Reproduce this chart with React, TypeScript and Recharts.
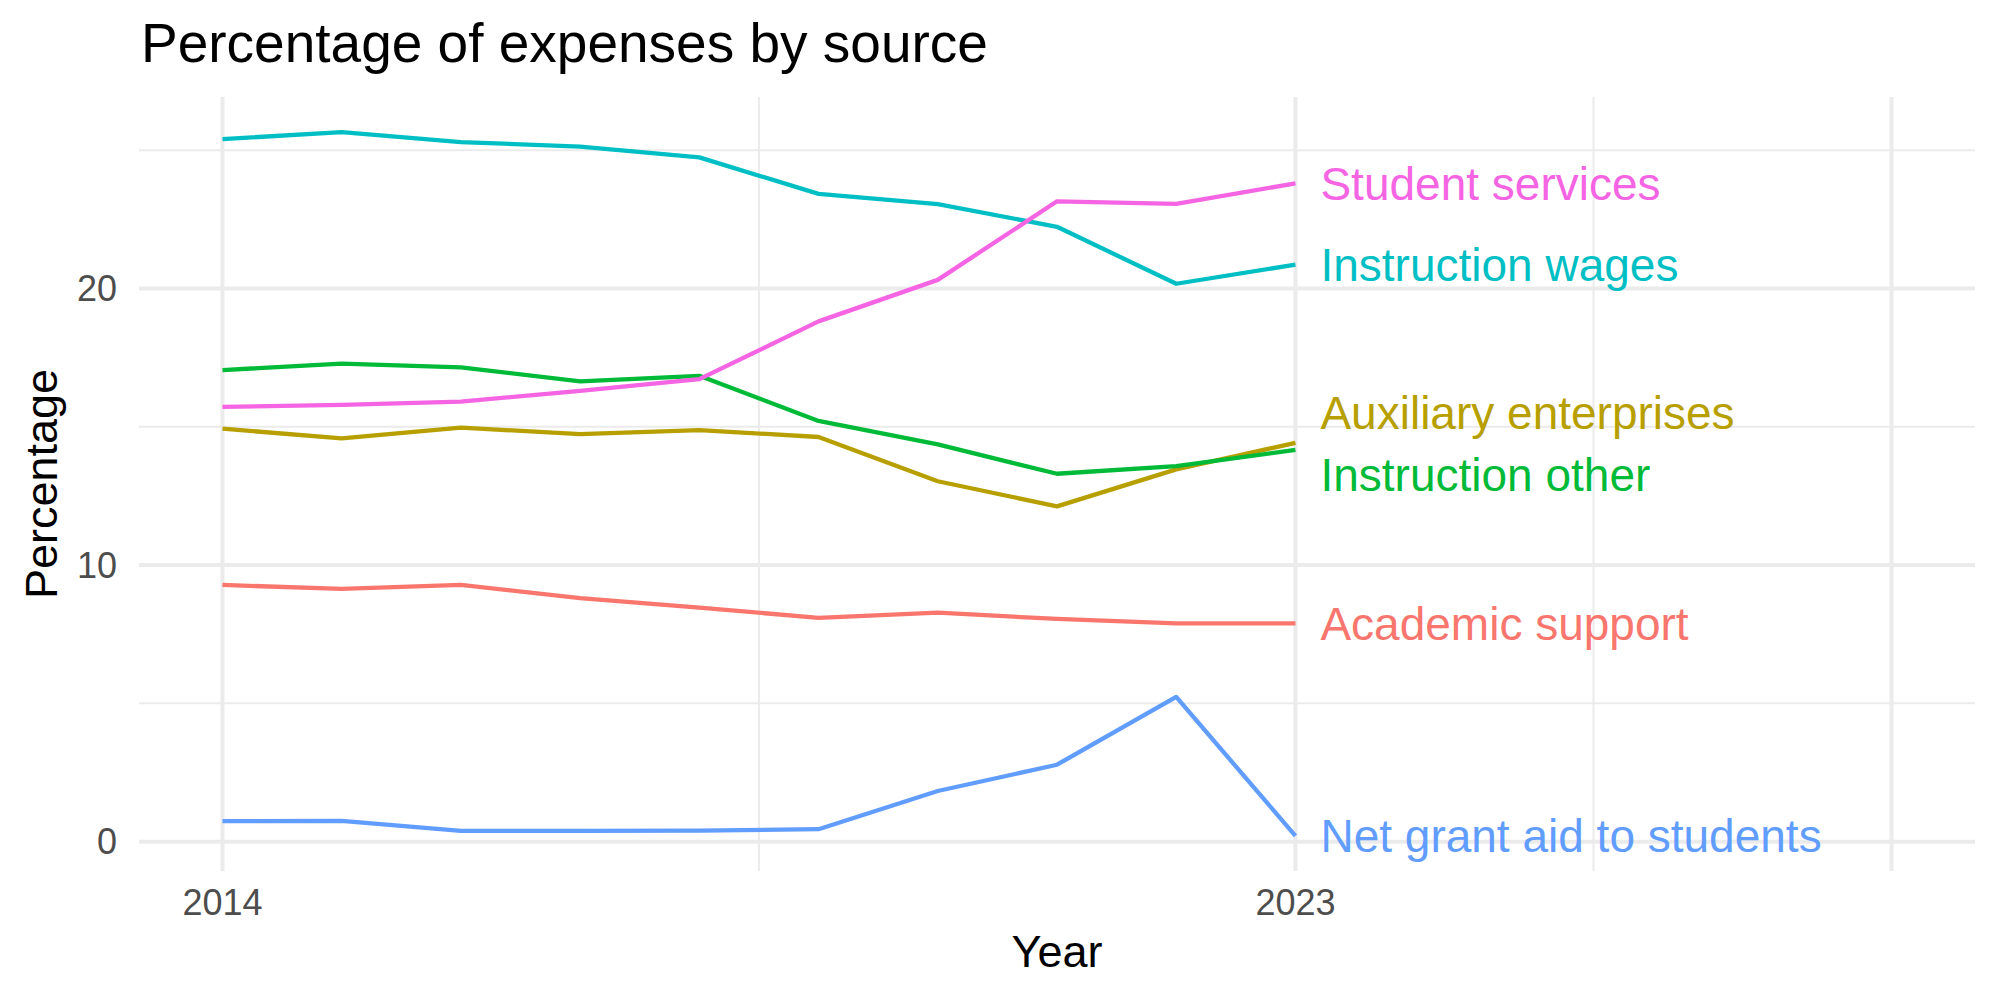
import React from "react";
import { LineChart, Line, XAxis, YAxis, CartesianGrid, ReferenceDot } from "recharts";

// Share of total expenses per category, by fiscal year
const years = [2014, 2015, 2016, 2017, 2018, 2019, 2020, 2021, 2022, 2023];

const academicSupport = [9.28, 9.14, 9.28, 8.8, 8.46, 8.09, 8.28, 8.05, 7.89, 7.89];
const auxiliaryEnterprises = [14.93, 14.58, 14.97, 14.73, 14.88, 14.63, 13.03, 12.12, 13.46, 14.42];
const instructionOther = [17.05, 17.28, 17.15, 16.64, 16.84, 15.21, 14.36, 13.3, 13.58, 14.16];
const instructionWages = [25.4, 25.65, 25.29, 25.13, 24.74, 23.42, 23.05, 22.23, 20.17, 20.86];
const netGrantAid = [0.74, 0.75, 0.39, 0.39, 0.4, 0.45, 1.83, 2.78, 5.23, 0.21];
const studentServices = [15.72, 15.79, 15.91, 16.3, 16.72, 18.81, 20.31, 23.15, 23.06, 23.8];

const seriesNames = [
  "Academic support",
  "Auxiliary enterprises",
  "Instruction other",
  "Instruction wages",
  "Net grant aid to students",
  "Student services",
];
const seriesValues = [
  academicSupport,
  auxiliaryEnterprises,
  instructionOther,
  instructionWages,
  netGrantAid,
  studentServices,
];
// repelled label heights at the last year
const labelValues = [7.89, 15.51, 13.27, 20.86, 0.21, 23.8];

const yTicks = [0, 10, 20];
const yMinor = [5, 15, 25];
const xTicks = [2014, 2023];
const xMajor = [2014, 2023, 2028];
const xMinor = [2018.5, 2025.5];

const COLORS = ["#F8766D", "#B79F00", "#00BA38", "#00BFC4", "#619CFF", "#F564E3"];
const FONT = "'Liberation Sans', Arial, Helvetica, sans-serif";
const GRID = "#EBEBEB";

const keys = seriesNames.map((_, i) => `s${i}`);

const rows = years.map((year, i) => {
  const row: Record<string, number> = { year };
  seriesValues.forEach((vals, s) => {
    row[keys[s]] = vals[i];
  });
  return row;
});

// ggplot-style 5% expansion of the data range
const allValues = seriesValues.flat();
const yLo = Math.min(...allValues);
const yHi = Math.max(...allValues);
const yPad = (yHi - yLo) * 0.05;
const xLo = 2014;
const xHi = 2028;
const xPad = (xHi - xLo) * 0.05;

function XTitle(props: any) {
  const vb = props.viewBox ?? { x: 139, y: 871, width: 1836, height: 60 };
  return (
    <text x={vb.x + vb.width / 2} y={vb.y + 96} textAnchor="middle" fill="#000" fontSize={45} fontFamily={FONT}>
      Year
    </text>
  );
}

function YTitle(props: any) {
  const vb = props.viewBox ?? { x: 39, y: 97, width: 100, height: 774 };
  const cx = 57;
  const cy = vb.y + vb.height / 2;
  return (
    <text
      x={cx}
      y={cy}
      textAnchor="middle"
      transform={`rotate(-90, ${cx}, ${cy})`}
      fill="#000"
      fontSize={45}
      fontFamily={FONT}
    >
      Percentage
    </text>
  );
}

export default function App() {
  return (
    <div
      style={{
        position: "absolute",
        left: 0,
        top: 0,
        width: 2000,
        height: 1000,
        background: "#fff",
        fontFamily: FONT,
      }}
    >
      <div
        style={{
          position: "absolute",
          left: 141,
          top: 16,
          fontSize: 55,
          lineHeight: "55px",
          color: "#000",
          whiteSpace: "nowrap",
        }}
      >
        Percentage of expenses by source
      </div>
      <LineChart width={2000} height={1000} data={rows} margin={{ top: 97, right: 25, bottom: 69, left: 39 }}>
        <CartesianGrid
          horizontalValues={yMinor}
          verticalValues={xMinor}
          stroke={GRID}
          strokeWidth={2}
        />
        <CartesianGrid
          horizontalValues={yTicks}
          verticalValues={xMajor}
          stroke={GRID}
          strokeWidth={4}
        />
        <XAxis
          dataKey="year"
          type="number"
          domain={[xLo - xPad, xHi + xPad]}
          ticks={xTicks}
          axisLine={false}
          tickLine={false}
          tickSize={0}
          tickMargin={18}
          height={60}
          interval={0}
          tick={{ fill: "#4D4D4D", fontSize: 36, fontFamily: FONT }}
          label={{ content: (p: any) => <XTitle viewBox={p.viewBox} /> }}
        />
        <YAxis
          type="number"
          domain={[yLo - yPad, yHi + yPad]}
          ticks={yTicks}
          axisLine={false}
          tickLine={false}
          tickSize={0}
          tickMargin={22}
          width={100}
          interval={0}
          tick={{ fill: "#4D4D4D", fontSize: 36, fontFamily: FONT }}
          label={{ content: (p: any) => <YTitle viewBox={p.viewBox} /> }}
        />
        {keys.map((k, i) => (
          <Line
            key={k}
            dataKey={k}
            name={seriesNames[i]}
            stroke={COLORS[i]}
            strokeWidth={4.3}
            strokeLinejoin="round"
            dot={false}
            activeDot={false}
            isAnimationActive={false}
          />
        ))}
        {seriesNames.map((name, i) => (
          <ReferenceDot
            key={name}
            x={years[years.length - 1]}
            y={labelValues[i]}
            r={0}
            fill="none"
            stroke="none"
            label={{
              value: name,
              position: "right",
              offset: 25,
              fill: COLORS[i],
              fontSize: 46,
              fontFamily: FONT,
            }}
          />
        ))}
      </LineChart>
    </div>
  );
}
